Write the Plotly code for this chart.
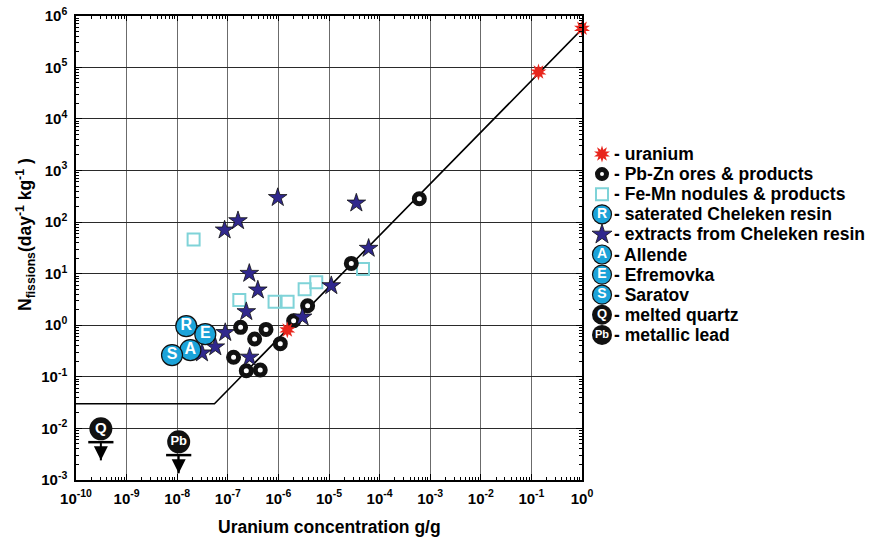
import plotly.graph_objects as go

# ---------------- data ----------------
uranium_x = [1.5e-6, 0.138, 1.0]
uranium_y = [0.81, 8.1e4, 5.7e5]

pbzn_x = [1.79e-7, 5.69e-7, 3.39e-7, 1.30e-7, 2.32e-7, 4.38e-7, 1.09e-6, 2.0e-6, 3.78e-6, 2.76e-5, 6.1e-4]
pbzn_y = [0.91, 0.83, 0.54, 0.24, 0.131, 0.136, 0.44, 1.22, 2.39, 15.8, 283]

femn_x = [2.11e-8, 1.69e-7, 8.4e-7, 1.52e-6, 3.3e-6, 5.6e-6, 4.7e-5]
femn_y = [46, 3.08, 2.85, 2.85, 5.0, 6.8, 12.3]

extract_x = [8.65e-8, 1.59e-7, 9.7e-7, 3.47e-5, 2.66e-7, 3.92e-7, 2.32e-7, 8.9e-8,
             5.66e-8, 3.09e-8, 2.70e-7, 3.0e-6, 1.11e-5, 6.07e-5]
extract_y = [70, 106, 298, 233, 10.1, 4.81, 1.83, 0.72, 0.38, 0.29, 0.24, 1.44, 5.83, 30.9]

meteor_labels = ["R", "E", "A", "S"]
meteor_x = [1.51e-8, 3.59e-8, 1.82e-8, 7.9e-9]
meteor_y = [0.96, 0.67, 0.33, 0.264]

limit_labels = ["Q", "Pb"]
limit_x = [3.1e-10, 1.07e-8]
limit_y = [0.0098, 0.0055]

model_x = [1e-10, 5.45e-8, 1.0]
model_y = [0.03, 0.03, 5.5e5]

x_tick_exp = list(range(-10, 1))
y_tick_exp = list(range(-3, 7))

legend_labels = ["- uranium", "- Pb-Zn ores & products", "- Fe-Mn nodules & products",
                 "- saterated Cheleken resin", "- extracts from Cheleken resin",
                 "- Allende", "- Efremovka", "- Saratov", "- melted quartz", "- metallic lead"]

# ---------------- styling ----------------
FONT = "Liberation Sans, Arial, Helvetica, sans-serif"
W, H = 878, 545
PL, PR, PT, PB = 76, 582, 15.7, 480
DEC_Y = (PB - PT) / 9.0

RED = "#e8261d"
NAVY = "#30288d"
CYAN = "#1ba3d9"
SQ = "#7fd3d8"

fig = go.Figure()

# model line
fig.add_trace(go.Scatter(x=model_x, y=model_y, mode="lines",
                         line=dict(color="black", width=1.6), hoverinfo="skip"))
# Fe-Mn squares
fig.add_trace(go.Scatter(x=femn_x, y=femn_y, mode="markers",
                         marker=dict(symbol="square-open", size=12, color=SQ,
                                     line=dict(color=SQ, width=2))))
# Pb-Zn rings
fig.add_trace(go.Scatter(x=pbzn_x, y=pbzn_y, mode="markers",
                         marker=dict(symbol="circle", size=10, color="white",
                                     line=dict(color="#111111", width=5))))
# extracts stars
fig.add_trace(go.Scatter(x=extract_x, y=extract_y, mode="markers",
                         marker=dict(symbol="star", size=14, color=NAVY,
                                     line=dict(color="#111111", width=0.8))))
# uranium bursts (two rotated 5-point stars)
for ang in (0, 36):
    fig.add_trace(go.Scatter(x=uranium_x, y=uranium_y, mode="markers", cliponaxis=False,
                             marker=dict(symbol="star", size=12, color=RED, angle=ang,
                                         line=dict(width=0))))
# meteorite / resin letter circles
fig.add_trace(go.Scatter(x=meteor_x, y=meteor_y, mode="markers+text", text=meteor_labels,
                         textposition="middle center",
                         textfont=dict(family=FONT, size=16, color="white", weight="bold"),
                         marker=dict(symbol="circle", size=21, color=CYAN,
                                     line=dict(color="#111111", width=1.2))))

# upper limits (Q, Pb)
bar_f = 10 ** (13.3 / DEC_Y)
tip_f = 10 ** (31.5 / DEC_Y)
bar_y = [v / bar_f for v in limit_y]
tip_y = [v / tip_f for v in limit_y]
stem_x, stem_y = [], []
for xx, b, t in zip(limit_x, bar_y, tip_y):
    stem_x += [xx, xx, None]
    stem_y += [b, t, None]
fig.add_trace(go.Scatter(x=stem_x, y=stem_y, mode="lines", line=dict(color="black", width=2)))
fig.add_trace(go.Scatter(x=limit_x, y=bar_y, mode="markers",
                         marker=dict(symbol="line-ew", size=18,
                                     line=dict(color="black", width=2.5))))
fig.add_trace(go.Scatter(x=limit_x, y=tip_y, mode="markers", cliponaxis=False,
                         marker=dict(symbol="arrow-down", size=14, color="black",
                                     line=dict(width=0))))
fig.add_trace(go.Scatter(x=limit_x, y=limit_y, mode="markers+text", text=limit_labels,
                         textposition="middle center",
                         textfont=dict(family=FONT, size=[15, 13], color="white", weight="bold"),
                         marker=dict(symbol="circle", size=23, color="#111111",
                                     line=dict(width=0))))

# ---------------- legend (drawn on a hidden pixel axis) ----------------
LX0 = 590
row_y = [154 + 20.1 * i for i in range(len(legend_labels))]
sym_x = 602

def leg(i, **marker):
    return go.Scatter(x=[sym_x], y=[row_y[i]], mode="markers", xaxis="x2", yaxis="y2",
                      cliponaxis=False, marker=marker)

for ang in (0, 36):
    fig.add_trace(leg(0, symbol="star", size=12, color=RED, angle=ang, line=dict(width=0)))
fig.add_trace(leg(1, symbol="circle", size=9, color="white", line=dict(color="#111111", width=5)))
fig.add_trace(leg(2, symbol="square-open", size=12, color=SQ, line=dict(color=SQ, width=2)))
fig.add_trace(leg(4, symbol="star", size=15, color=NAVY, line=dict(color="#111111", width=0.8)))

circ_rows = [3, 5, 6, 7]
circ_letters = ["R", "A", "E", "S"]
fig.add_trace(go.Scatter(x=[sym_x] * 4, y=[row_y[i] for i in circ_rows], mode="markers+text",
                         text=circ_letters, textposition="middle center", xaxis="x2", yaxis="y2",
                         cliponaxis=False,
                         textfont=dict(family=FONT, size=14, color="white", weight="bold"),
                         marker=dict(symbol="circle", size=19, color=CYAN,
                                     line=dict(color="#111111", width=1.2))))
fig.add_trace(go.Scatter(x=[sym_x] * 2, y=[row_y[8], row_y[9]], mode="markers+text",
                         text=limit_labels, textposition="middle center", xaxis="x2", yaxis="y2",
                         cliponaxis=False,
                         textfont=dict(family=FONT, size=[13, 11], color="white", weight="bold"),
                         marker=dict(symbol="circle", size=20, color="#111111", line=dict(width=0))))

annotations = []
for lab, yy in zip(legend_labels, row_y):
    annotations.append(dict(x=612, y=yy, xref="x2", yref="y2", text=lab, showarrow=False,
                            xanchor="left", yanchor="middle",
                            font=dict(family=FONT, size=17.5, color="black", weight="bold")))

# axis titles
annotations.append(dict(x=(PL + PR) / 2 / W, y=1 - 527 / H, xref="paper", yref="paper",
                        text="Uranium concentration g/g", showarrow=False,
                        xanchor="center", yanchor="middle",
                        font=dict(family=FONT, size=17.5, color="black", weight="bold")))
annotations.append(dict(x=25 / W, y=1 - 235 / H, xref="paper", yref="paper",
                        text="N<sub>fissions</sub>(day<sup>-1</sup> kg<sup>-1</sup> )",
                        showarrow=False, textangle=-90, xanchor="center", yanchor="middle",
                        font=dict(family=FONT, size=17.5, color="black", weight="bold")))

tickfont = dict(family=FONT, size=15, color="black", weight="bold")
common = dict(type="log", ticks="inside", ticklen=6, tickwidth=1.3, tickcolor="black",
              showline=True, linecolor="black", linewidth=1.5, mirror="allticks",
              showgrid=True, zeroline=False, automargin=False, tickfont=tickfont,
              ticklabelstandoff=4, ticklabeloverflow="allow",
              minor=dict(ticks="inside", ticklen=3.5, tickwidth=1, tickcolor="black",
                         dtick="D1", showgrid=False))

fig.update_layout(
    width=W, height=H, margin=dict(l=0, r=0, t=0, b=0),
    paper_bgcolor="white", plot_bgcolor="rgba(0,0,0,0)",
    showlegend=False, font=dict(family=FONT, color="black"),
    annotations=annotations,
    xaxis=dict(domain=[PL / W, PR / W], range=[-10, 0], anchor="y",
               tickmode="array", tickvals=[10 ** e for e in x_tick_exp],
               ticktext=["10<sup>%d</sup>" % e for e in x_tick_exp],
               gridcolor="#6b6b6b", gridwidth=1.3, **common),
    yaxis=dict(domain=[1 - PB / H, 1 - PT / H], range=[-3, 6], anchor="x",
               tickmode="array", tickvals=[10 ** e for e in y_tick_exp],
               ticktext=["10<sup>%d</sup>" % e for e in y_tick_exp],
               gridcolor="#2a2a2a", gridwidth=1.1, **common),
    xaxis2=dict(domain=[LX0 / W, 1], range=[LX0, W], anchor="y2", visible=False),
    yaxis2=dict(domain=[0, 1], range=[H, 0], anchor="x2", visible=False),
)

# remove the default page margin so the figure fills the 878x545 window exactly
fig.write_html("out.html", config={"displayModeBar": False},
               post_script="document.body.style.margin='0px';document.body.style.overflow='hidden';")
